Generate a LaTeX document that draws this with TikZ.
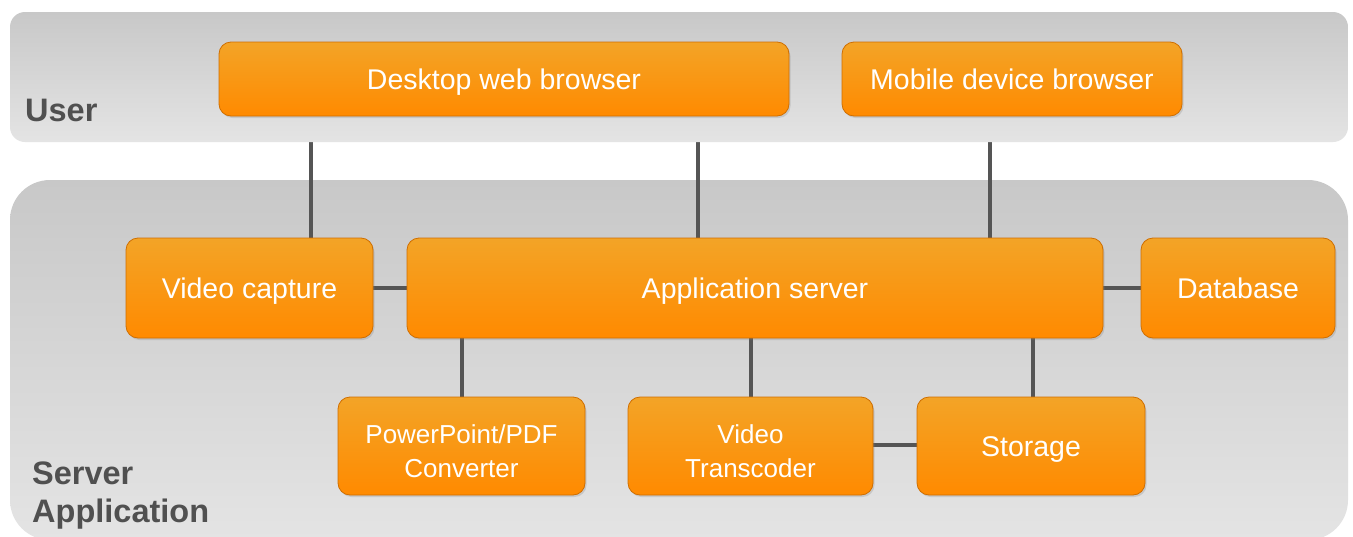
\documentclass[tikz,border=0pt]{standalone}
\usepackage{fontspec}
\setmainfont{Liberation Sans}
\usetikzlibrary{shadows,calc}
\definecolor{oTop}{HTML}{F3A427}
\definecolor{oBot}{HTML}{FF8A00}
\definecolor{oEdge}{HTML}{CF6E00}
\definecolor{pTop}{HTML}{C8C8C8}
\definecolor{pBot}{HTML}{E4E4E4}
\definecolor{lineC}{HTML}{555555}
\definecolor{labC}{HTML}{505050}
\pgfdeclarelayer{bg}
\pgfdeclarelayer{lines}
\pgfdeclarelayer{mid}
\pgfsetlayers{bg,lines,mid,main}
\tikzset{
  obox/.style={rectangle, rounded corners=12pt, inner sep=0pt, top color=oTop, bottom color=oBot,
    draw=oEdge, line width=0.8pt, text=white, align=center,
    font=\fontsize{28.5}{34}\selectfont,
    drop shadow={opacity=0.25, shadow xshift=1.5pt, shadow yshift=-2pt}},
  one/.style={text height=23pt, text depth=3pt},
  two/.style={text height=62pt, text depth=0pt, font=\fontsize{26}{34}\selectfont},
  panel/.style={top color=pTop, bottom color=pBot, draw=none},
  conn/.style={draw=lineC, line width=4pt},
  lab/.style={text=labC, font=\fontsize{32.5}{38}\selectfont\bfseries, anchor=base west, align=left, inner sep=0pt}
}
\begin{document}
\begin{tikzpicture}[x=1pt,y=-1pt]
\useasboundingbox (0,0) rectangle (1353,536);
% boxes
\node[obox, one, minimum width=570pt, minimum height=74pt] (desk) at (504,79) {Desktop web browser};
\node[obox, one, minimum width=340pt, minimum height=74pt] (mob) at (1012,79) {Mobile device browser};
\node[obox, one, minimum width=247pt, minimum height=100pt] (vcap) at (249.5,288) {Video capture};
\node[obox, one, minimum width=696pt, minimum height=100pt] (app) at (755,288) {Application server};
\node[obox, one, minimum width=194pt, minimum height=100pt] (db) at (1238,288) {Database};
\node[obox, two, minimum width=247pt, minimum height=98pt] (ppt) at (461.5,446) {PowerPoint/PDF\\Converter};
\node[obox, two, minimum width=245pt, minimum height=98pt] (vt) at (750.5,446) {Video\\Transcoder};
\node[obox, one, minimum width=228pt, minimum height=98pt] (stor) at (1031,446) {Storage};
% labels
\node[lab] (luser) at (25,121) {User};
\node[lab] (lserv) at (32,522) {Server\\Application};
% panels
\begin{pgfonlayer}{bg}
\fill[white] (0,0) rectangle (1353,536);
\shade[panel, rounded corners=40pt] (10,180) rectangle (1348,540);
\end{pgfonlayer}
\begin{pgfonlayer}{mid}
\shade[panel, rounded corners=15pt] (10,12) rectangle (1348,142);
\end{pgfonlayer}
% connectors
\begin{pgfonlayer}{lines}
\draw[conn] ([xshift=61.5pt]vcap.north) -- ([xshift=61.5pt]vcap.north |- desk.south);
\draw[conn] ([xshift=-57pt]app.north) -- ([xshift=-57pt]app.north |- desk.south);
\draw[conn] ([xshift=-22pt]mob.south) -- ([xshift=-22pt]mob.south |- app.north);
\draw[conn] (vcap.east) -- (app.west);
\draw[conn] (app.east) -- (db.west);
\draw[conn] ([xshift=0.5pt]ppt.north) -- ([xshift=0.5pt]ppt.north |- app.south);
\draw[conn] ([xshift=0.5pt]vt.north) -- ([xshift=0.5pt]vt.north |- app.south);
\draw[conn] ([xshift=2pt]stor.north) -- ([xshift=2pt]stor.north |- app.south);
\draw[conn] ([yshift=1pt]vt.east) -- ([yshift=1pt]stor.west);
\end{pgfonlayer}
\end{tikzpicture}
\end{document}
